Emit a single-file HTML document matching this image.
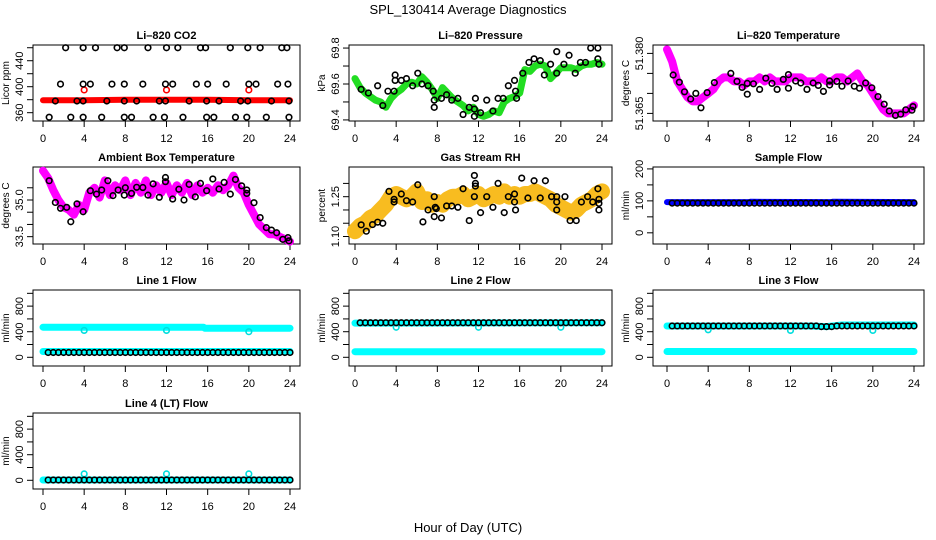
<!DOCTYPE html>
<html><head><meta charset="utf-8"><style>
html,body{margin:0;padding:0;background:#fff;}
svg{display:block;font-family:"Liberation Sans",sans-serif;}
</style></head><body>
<svg id="chart" width="936" height="540" viewBox="0 0 936 540">
<text x="468" y="14" text-anchor="middle" font-size="13">SPL_130414  Average Diagnostics</text>
<text x="468" y="532" text-anchor="middle" font-size="13">Hour of Day (UTC)</text>
</svg>
<script>
// ---------- data ----------
const H49=[0,0.5,1,1.5,2,2.5,3,3.5,4,4.5,5,5.5,6,6.5,7,7.5,8,8.5,9,9.5,10,10.5,11,11.5,12,12.5,13,13.5,14,14.5,15,15.5,16,16.5,17,17.5,18,18.5,19,19.5,20,20.5,21,21.5,22,22.5,23,23.5,24];
const H48=[0.5,1,1.5,2,2.5,3,3.5,4,4.5,5,5.5,6,6.5,7,7.5,8,8.5,9,9.5,10,10.5,11,11.5,12,12.5,13,13.5,14,14.5,15,15.5,16,16.5,17,17.5,18,18.5,19,19.5,20,20.5,21,21.5,22,22.5,23,23.5,24];

const co2RedH=[0,4,8,12,16,20,24];
const co2RedV=[379,379,380,380,380,379,379];
const co2RedDotH=[4,12,20];
const co2RedDotV=[395,395,395];
const co2TopH=[2.2,3.9,5.1,7.2,7.9,10.2,12.0,13.1,15.3,15.8,18.2,19.9,21.1,23.2,23.7];
const co2TopV=[460,460,460,460,460,460,460,460,460,460,460,460,460,460,460];
const co2MidH=[1.7,3.9,4.6,6.7,7.9,9.7,11.9,12.6,14.9,16.0,17.8,20.0,20.7,22.8,23.8];
const co2MidV=[404,404,404,404,404,404,404,404,404,404,404,404,404,404,404];
const co2LowH=[1.2,3.3,3.9,6.2,7.9,9.1,11.3,11.9,14.2,15.9,17.1,19.2,19.9,22.2,23.9];
const co2LowV=[378,378,378,378,378,378,378,378,378,378,378,378,378,378,378];
const co2BotH=[0.6,2.7,3.9,5.7,7.9,8.6,10.7,11.8,13.6,15.9,16.6,18.7,19.8,21.7,23.9];
const co2BotV=[353,353,353,353,353,353,353,353,353,353,353,353,353,353,353];

const presBand=[69.63,69.58,69.55,69.53,69.51,69.50,69.47,69.52,69.55,69.57,69.60,69.61,69.60,69.64,69.61,69.57,69.52,69.58,69.55,69.52,69.50,69.48,69.45,69.47,69.43,69.42,69.43,69.45,69.44,69.50,69.52,69.53,69.55,69.68,69.67,69.70,69.71,69.70,69.63,69.66,69.69,69.69,69.69,69.68,69.70,69.71,69.71,69.72,69.71];
const presDotH=[0.6,1.3,2.2,2.7,3.2,3.8,3.9,3.9,4.5,5.0,5.6,6.1,6.5,7.1,7.6,7.7,7.7,8.4,8.9,9.4,10.0,10.5,11.1,11.6,11.7,11.6,12.2,12.8,13.4,13.9,14.4,14.9,15.5,15.6,15.7,16.3,16.9,17.4,18.0,18.4,19.0,19.6,19.6,20.3,20.8,21.4,21.9,22.4,22.9,23.6,23.6,23.7];
const presDotV=[69.57,69.55,69.59,69.48,69.56,69.56,69.65,69.62,69.62,69.63,69.59,69.66,69.60,69.59,69.56,69.51,69.47,69.52,69.54,69.51,69.52,69.43,69.47,69.46,69.52,69.42,69.44,69.51,69.45,69.52,69.52,69.59,69.62,69.56,69.52,69.66,69.72,69.74,69.73,69.65,69.71,69.78,69.66,69.71,69.76,69.66,69.72,69.72,69.80,69.80,69.74,69.71];

const tempBand=[51.381,51.378,51.373,51.371,51.369,51.368,51.368,51.369,51.370,51.371,51.373,51.374,51.374,51.373,51.373,51.372,51.373,51.373,51.374,51.373,51.374,51.373,51.373,51.373,51.374,51.374,51.374,51.373,51.373,51.373,51.374,51.373,51.373,51.374,51.374,51.373,51.374,51.375,51.373,51.372,51.370,51.368,51.366,51.365,51.365,51.365,51.365,51.366,51.367];
const tempDotH=[0.6,1.2,1.7,2.3,2.8,3.3,3.9,4.6,6.2,6.8,7.3,7.8,7.8,8.4,9.0,9.6,10.2,10.7,11.3,11.8,11.8,12.5,13.0,13.6,14.2,14.7,15.2,15.8,15.8,16.5,17.0,17.6,18.2,18.7,19.3,19.9,20.5,21.1,21.6,22.2,22.7,23.2,23.8,23.9];
const tempDotV=[51.3746,51.3728,51.3704,51.3686,51.3700,51.3664,51.3702,51.3727,51.3750,51.3730,51.3715,51.3725,51.3698,51.3724,51.3710,51.3738,51.3725,51.3710,51.3735,51.3747,51.3713,51.3731,51.3726,51.3710,51.3726,51.3720,51.3705,51.3731,51.3721,51.3730,51.3718,51.3731,51.3718,51.3713,51.3726,51.3714,51.3692,51.3673,51.3656,51.3645,51.3648,51.3659,51.3658,51.3667];

const ambBand=[36.2,35.9,35.4,35.0,34.7,34.6,34.4,34.8,34.6,35.3,35.5,35.1,35.8,35.2,35.6,35.4,35.8,35.2,35.7,35.3,35.8,35.2,35.6,35.3,35.7,35.2,35.6,35.3,35.7,35.2,35.6,35.3,35.5,35.3,35.6,35.4,35.6,36.0,35.5,35.3,34.8,34.4,34.0,33.8,33.6,33.6,33.5,33.4,33.3];
const ambDotH=[0.6,1.2,1.7,2.3,2.7,3.3,3.9,4.6,5.2,5.7,6.3,6.8,7.3,7.9,8.0,8.6,9.1,9.7,10.2,10.7,11.3,11.9,11.9,12.6,13.2,13.7,14.2,14.8,15.3,15.9,16.5,17.1,17.6,18.2,18.7,19.3,19.8,19.8,20.5,21.1,21.7,22.2,22.7,23.3,23.8,23.9];
const ambDotV=[35.79,34.90,34.66,34.70,34.11,34.84,34.52,35.38,35.24,35.41,35.79,35.18,35.41,35.20,35.50,35.27,35.52,35.51,35.20,35.66,35.11,35.92,35.75,35.04,35.44,35.00,35.64,35.13,35.68,35.38,35.86,35.45,35.72,35.24,35.84,35.58,35.41,35.27,34.89,34.28,33.87,33.77,33.66,33.39,33.46,33.33];

const rhBand=[1.12,1.14,1.15,1.17,1.18,1.20,1.22,1.25,1.26,1.25,1.24,1.25,1.27,1.23,1.24,1.22,1.23,1.22,1.24,1.25,1.25,1.26,1.24,1.25,1.26,1.24,1.25,1.26,1.25,1.27,1.25,1.26,1.25,1.26,1.26,1.27,1.26,1.25,1.24,1.22,1.21,1.20,1.19,1.20,1.22,1.23,1.24,1.26,1.27];
const rhDotH=[0.6,1.1,1.7,2.2,2.7,3.3,3.8,3.8,4.5,5.0,5.6,6.1,6.6,7.1,7.7,7.8,7.9,7.7,8.4,8.9,9.4,10.0,10.5,11.1,11.6,11.6,11.7,11.7,12.2,12.8,13.4,13.9,14.5,14.9,15.5,15.5,15.6,16.2,16.8,17.4,18.0,18.5,19.1,19.6,19.6,19.6,20.4,20.9,21.5,22.0,22.6,23.1,23.6,23.7,23.7,23.7];
const rhDotV=[1.144,1.12,1.145,1.154,1.15,1.27,1.23,1.24,1.26,1.235,1.23,1.295,1.155,1.20,1.175,1.21,1.205,1.25,1.17,1.215,1.215,1.21,1.28,1.16,1.25,1.33,1.30,1.29,1.19,1.25,1.21,1.30,1.19,1.25,1.26,1.23,1.20,1.32,1.245,1.31,1.245,1.31,1.25,1.25,1.23,1.20,1.25,1.16,1.16,1.23,1.25,1.23,1.28,1.24,1.225,1.20];

const sampleBlueH=[0,8,8.1,16,16.1,24];
const sampleBlueV=[96,96,97,96,97,96];
const sampleBlack=[93,93,93,93,93,93,93,93,93,93,93,93,93,93,93,93,93,93,93,93,93,93,93,93,93,93,93,93,93,93,93,93,93,93,93,93,93,93,93,93,93,93,93,93,93,93,93,93];

const line1HiH=[0,15.6,15.7,24];
const line1HiV=[470,470,455,455];
const line1LoH=[0,24];
const line1LoV=[90,90];
const line1DipH=[4,12,20];
const line1DipV=[420,420,400];
const line1Black=[75,75,75,75,75,75,75,75,75,75,75,75,75,75,75,75,75,75,75,75,75,75,75,75,75,75,75,75,75,75,75,75,75,75,75,75,75,75,75,75,75,75,75,75,75,75,75,75];

const line2HiH=[0,24];
const line2HiV=[535,540];
const line2LoH=[0,24];
const line2LoV=[88,88];
const line2DipH=[4,12,20];
const line2DipV=[470,470,470];
const line2Black=[540,540,540,540,540,540,540,540,540,540,540,540,540,540,540,540,540,540,540,540,540,540,540,540,540,540,540,540,540,540,540,540,540,540,540,540,540,540,540,540,540,540,540,540,540,540,540,540];

const line3HiH=[0,14,15.5,17,24];
const line3HiV=[490,490,480,505,505];
const line3LoH=[0,24];
const line3LoV=[90,90];
const line3DipH=[4,12,20];
const line3DipV=[430,420,420];
const line3Black=[490,490,490,490,490,490,490,490,490,490,490,490,490,490,490,490,490,490,490,490,490,490,490,490,490,490,490,490,490,480,480,480,490,490,490,490,490,490,490,490,490,490,490,490,490,490,490,490];

const line4CyanH=[0,24];
const line4CyanV=[5,5];
const line4DipH=[4,12,20];
const line4DipV=[100,100,100];
const line4Black=[5,5,5,5,5,5,5,5,5,5,5,5,5,5,5,5,5,5,5,5,5,5,5,5,5,5,5,5,5,5,5,5,5,5,5,5,5,5,5,5,5,5,5,5,5,5,5,5];

const xTicks=[0,4,8,12,16,20,24];

// ---------- layout ----------
const NS="http://www.w3.org/2000/svg";
const svg=document.getElementById('chart');
const COLS=[[33,300,43,290],[349,612,355,602],[653,924,667,914]];
const ROWS=[[45,121],[167,244],[290,366],[413,489]];

function el(tag,attrs,parent){const e=document.createElementNS(NS,tag);for(const k in attrs)e.setAttribute(k,attrs[k]);parent.appendChild(e);return e;}

function panel(col,row,title,ylab,ymin,ymax,ticks,labels,key){
  const c=COLS[col],r=ROWS[row];
  const g=el('g',{},svg);
  
  
  const P={x:h=>c[2]+(h/24)*(c[3]-c[2]),y:v=>r[1]-(v-ymin)/(ymax-ymin)*(r[1]-r[0]),g:g};
  const box=el('rect',{x:c[0],y:r[0],width:c[1]-c[0],height:r[1]-r[0],fill:'none',stroke:'#000','stroke-width':1},g);
  
  
  const t=el('text',{x:(c[0]+c[1])/2,y:r[0]-6,'text-anchor':'middle','font-size':11,'font-weight':'bold'},g);
  t.textContent=title;
  
  
  const yl=el('text',{x:c[0]-24,y:(r[0]+r[1])/2,'text-anchor':'middle','font-size':10,transform:'rotate(-90 '+(c[0]-24)+' '+(r[0]+r[1])/2+')'},g);
  yl.textContent=ylab;
  
  
  for(const v of ticks){
    const y=P.y(v);
    const tk=el('line',{x1:c[0],x2:c[0]-6,y1:y,y2:y,stroke:'#000'},g);
    
    
  }
  for(const lb of labels){
    const y=P.y(parseFloat(lb));
    const tl=el('text',{x:c[0]-10,y:y,'text-anchor':'middle','font-size':11,transform:'rotate(-90 '+(c[0]-10)+' '+y+')'},g);
    tl.textContent=lb;
    
    
  }
  for(const h of xTicks){
    const x=P.x(h);
    const tk=el('line',{x1:x,x2:x,y1:r[1],y2:r[1]+6,stroke:'#000'},g);
    
    
    const tl=el('text',{x:x,y:r[1]+21,'text-anchor':'middle','font-size':11},g);
    tl.textContent=String(h);
    
    
  }
  return P;
}

function band(P,hs,vs,color,width,name){
  const pts=hs.map((h,i)=>P.x(h).toFixed(1)+','+P.y(vs[i]).toFixed(1)).join(' ');
  const pl=el('polyline',{points:pts,fill:'none',stroke:color,'stroke-width':width,'stroke-linejoin':'round','stroke-linecap':'round'},P.g);
  
  
}
function dots(P,hs,vs,color,name){
  for(let i=0;i<hs.length;i++){
    const c=el('circle',{cx:P.x(hs[i]),cy:P.y(vs[i]),r:2.8,fill:'none',stroke:color,'stroke-width':1.6},P.g);
    
    
  }
}

// CO2
let P=panel(0,0,'Li\u2013820 CO2','Licor ppm',347.2,464.2,[360,380,400,420,440,460],['360','400','440'],'co2');
band(P,co2RedH,co2RedV,'#ff0000',6,'co2-band');
dots(P,co2RedDotH,co2RedDotV,'#ff0000','co2-red-point');
dots(P,co2TopH,co2TopV,'#000','co2-point');
dots(P,co2MidH,co2MidV,'#000','co2-point');
dots(P,co2LowH,co2LowV,'#000','co2-point');
dots(P,co2BotH,co2BotV,'#000','co2-point');
// Pressure
P=panel(1,0,'Li\u2013820 Pressure','kPa',69.394,69.817,[69.4,69.5,69.6,69.7,69.8],['69.4','69.6','69.8'],'pressure');
band(P,H49,presBand,'#22dd22',7,'pressure-band');
dots(P,presDotH,presDotV,'#000','pressure-point');
// Temperature
P=panel(2,0,'Li\u2013820 Temperature','degrees C',51.3631,51.3821,[51.365,51.370,51.375,51.380],['51.365','51.380'],'li820-temp');
band(P,H49,tempBand,'#ff00ff',8,'temperature-band');
dots(P,tempDotH,tempDotV,'#000','temperature-point');
// Ambient
P=panel(0,1,'Ambient Box Temperature','degrees C',33.2,36.35,[33.5,34.0,34.5,35.0,35.5],['33.5','35.0'],'ambient');
band(P,H49,ambBand,'#ff00ff',8,'ambient-band');
dots(P,ambDotH,ambDotV,'#000','ambient-point');
// RH
P=panel(1,1,'Gas Stream RH','percent',1.0718,1.3618,[1.10,1.15,1.20,1.25,1.30],['1.10','1.25'],'rh');
band(P,H49,rhBand,'#f8bc20',16,'rh-band');
dots(P,rhDotH,rhDotV,'#000','rh-point');
// Sample flow
P=panel(2,1,'Sample Flow','ml/min',-35,206,[0,50,100,150,200],['0','100','200'],'sample-flow');
band(P,sampleBlueH,sampleBlueV,'#0000ff',6,'sample-flow-band');
dots(P,H48,sampleBlack,'#000','sample-flow-point');
const FT=[0,200,400,600,800,1000], FL=['0','400','800'];
// Line 1
P=panel(0,2,'Line 1 Flow','ml/min',-136,1052,FT,FL,'line1');
band(P,line1HiH,line1HiV,'#00ffff',7,'line1-cyan-high');
band(P,line1LoH,line1LoV,'#00ffff',7,'line1-cyan-low');
dots(P,line1DipH,line1DipV,'#00dddd','line1-cyan-point');
dots(P,H48,line1Black,'#000','line1-point');
// Line 2
P=panel(1,2,'Line 2 Flow','ml/min',-136,1052,FT,FL,'line2');
band(P,line2HiH,line2HiV,'#00ffff',7,'line2-cyan-high');
band(P,line2LoH,line2LoV,'#00ffff',7,'line2-cyan-low');
dots(P,line2DipH,line2DipV,'#00dddd','line2-cyan-point');
dots(P,H48,line2Black,'#000','line2-point');
// Line 3
P=panel(2,2,'Line 3 Flow','ml/min',-136,1052,FT,FL,'line3');
band(P,line3HiH,line3HiV,'#00ffff',7,'line3-cyan-high');
band(P,line3LoH,line3LoV,'#00ffff',7,'line3-cyan-low');
dots(P,line3DipH,line3DipV,'#00dddd','line3-cyan-point');
dots(P,H48,line3Black,'#000','line3-point');
// Line 4
P=panel(0,3,'Line 4 (LT) Flow','ml/min',-136,1052,FT,FL,'line4');
band(P,line4CyanH,line4CyanV,'#00ffff',7,'line4-cyan');
dots(P,line4DipH,line4DipV,'#00dddd','line4-cyan-point');
dots(P,H48,line4Black,'#000','line4-point');
</script>
</body></html>
